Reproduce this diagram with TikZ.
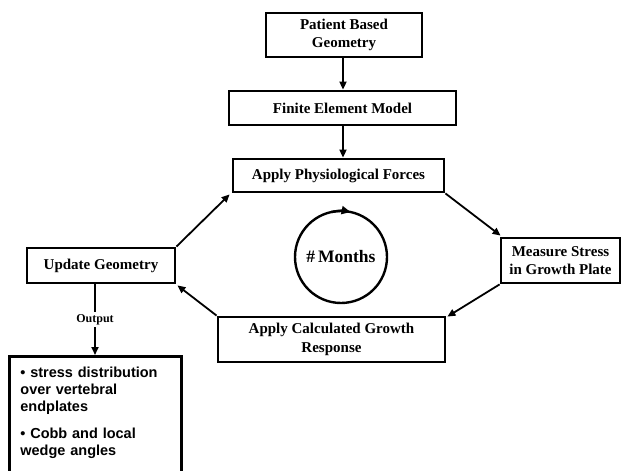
\documentclass[tikz,border=0pt]{standalone}
\usepackage{fontspec}
\setmainfont{Liberation Serif}
\setsansfont{Liberation Sans}
\usetikzlibrary{arrows.meta}
\begin{document}
\begin{tikzpicture}[x=1pt,y=-1pt,
  box/.style={draw, line width=2.8pt, inner sep=0pt, align=center,
    font=\fontsize{15}{18.5}\selectfont\bfseries},
  arr/.style={line width=1.8pt, -{Triangle[length=8pt,width=7pt]}}]
\useasboundingbox (0,0) rectangle (622,471);
\fill[white] (0,0) rectangle (622,471);
\node[box, minimum width=156pt, minimum height=44pt] (pat) at (344,35) {Patient Based\\Geometry};
\node[box, minimum width=227pt, minimum height=34pt] (fem) at (342.5,108) {Finite Element Model};
\node[box, minimum width=211pt, minimum height=33pt] (phys) at (338.5,175.5) {Apply Physiological Forces};
\node[box, minimum width=119pt, minimum height=45pt] (meas) at (560.5,260.5) {Measure Stress\\in Growth Plate};
\node[box, minimum width=227pt, minimum height=45pt] (calc) at (331.5,339.5) {Apply Calculated Growth\\Response};
\node[box, minimum width=148pt, minimum height=35pt] (upd) at (101,265.5) {Update Geometry};
\node[draw, line width=2.8pt, anchor=north west, minimum width=172pt, text width=150pt,
  inner xsep=11pt, inner ysep=11pt, align=left, text depth=100pt,
  font=\fontsize{14.5}{16.9}\selectfont\sffamily\bfseries] (out) at (8,355)
  {\textbullet{} stress distribution\\over vertebral\\endplates\\[10pt]\textbullet{} Cobb and local\\wedge angles};
\node[circle, draw, line width=2.4pt, minimum size=92pt, inner sep=0pt,
  font=\fontsize{17.5}{20}\selectfont\bfseries] (cyc) at (341,257) {\#\,Months};
\draw[line width=2.4pt, -{Triangle[length=9pt,width=8pt]}] (cyc.center) ++(-102:46) arc[start angle=-102, end angle=-78, radius=46];
\draw[arr] (pat.south -| 343,0) -- (fem.north -| 343,0);
\draw[arr] (fem.south -| 343,0) -- (phys.north -| 343,0);
\draw[arr] (upd.north east) -- ([shift={(-2,1)}]phys.south west);
\draw[arr] (phys.south east) -- ([shift={(1,-1)}]meas.north west);
\draw[arr] (meas.south west) -- ([shift={(1,1)}]calc.north east);
\draw[arr] (calc.north west) -- ([shift={(1,1)}]upd.south east);
\draw[arr] ([xshift=-6pt]upd.south) -- node[fill=white, inner sep=2pt, font=\fontsize{12}{14}\selectfont\bfseries] {Output} ([xshift=-6pt]upd.south |- out.north);
\end{tikzpicture}
\end{document}
